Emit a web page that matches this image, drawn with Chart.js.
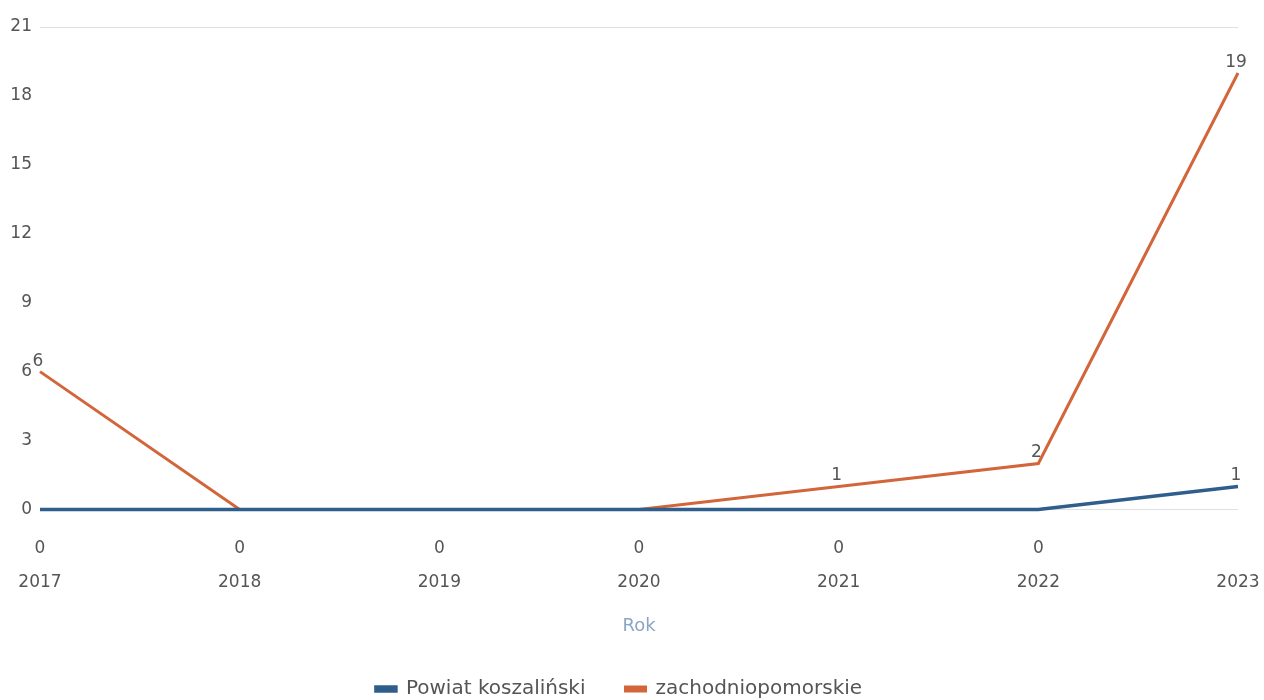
<!DOCTYPE html>
<html>
<head>
<meta charset="utf-8">
<script src="https://cdn.jsdelivr.net/npm/chart.js@4"></script>
<style>
  html, body { margin: 0; padding: 0; background: #fff; }
  #wrap { width: 1264px; height: 700px; }
</style>
</head>
<body>
<div id="wrap"><canvas id="chart" width="1264" height="700"></canvas></div>
<script>
// Values
const years = ['2017', '2018', '2019', '2020', '2021', '2022', '2023'];
const powiat = [0, 0, 0, 0, 0, 0, 1];
const zachodniopomorskie = [6, 0, 0, 0, 1, 2, 19];
const yTicks = [0, 3, 6, 9, 12, 15, 18, 21];

const blue = '#2f5e8c';
const orange = '#d2663a';
const textGrey = '#555';

// Draw value labels: blue zeros below the axis, other values above the point
const valueLabels = {
    id: 'valueLabels',
    afterDatasetsDraw(chart) {
        const ctx = chart.ctx;
        ctx.save();
        ctx.font = '17px "DejaVu Sans"';
        ctx.fillStyle = textGrey;
        ctx.textAlign = 'center';
        chart.data.datasets.forEach((ds, i) => {
            const meta = chart.getDatasetMeta(i);
            meta.data.forEach((pt, j) => {
                const v = ds.data[j];
                if (i === 0 && v === 0) {
                    ctx.textBaseline = 'middle';
                    ctx.fillText(String(v), pt.x, pt.y + 39);
                } else if (v !== 0) {
                    ctx.textBaseline = 'bottom';
                    ctx.fillText(String(v), pt.x - 2, pt.y - 2);
                }
            });
        });
        ctx.restore();
    }
};

new Chart(document.getElementById('chart'), {
    type: 'line',
    data: {
        labels: years,
        datasets: [{
            label: 'Powiat koszaliński',
            data: powiat,
            borderColor: blue,
            backgroundColor: blue,
            borderWidth: 3.5,
            pointRadius: 0,
            tension: 0
        }, {
            label: 'zachodniopomorskie',
            data: zachodniopomorskie,
            borderColor: orange,
            backgroundColor: orange,
            borderWidth: 3,
            pointRadius: 0,
            tension: 0
        }]
    },
    options: {
        responsive: false,
        animation: false,
        // small negative bottom padding pushes the legend row down to the edge
        layout: { padding: { top: 27, right: 26, bottom: -9, left: 0 } },
        plugins: {
            legend: {
                position: 'bottom',
                labels: {
                    color: textGrey,
                    font: { size: 20, family: '"DejaVu Sans"' },
                    boxWidth: 20,
                    boxHeight: 4,
                    padding: 40
                }
            },
            tooltip: { enabled: false }
        },
        scales: {
            x: {
                offset: false,
                grid: { display: false },
                border: { display: false },
                ticks: {
                    color: textGrey,
                    font: { size: 17, family: '"DejaVu Sans"' },
                    padding: 4,
                    maxRotation: 0
                },
                title: {
                    display: true,
                    text: 'Rok',
                    color: '#8aa6c4',
                    font: { size: 18, family: '"DejaVu Sans"' },
                    padding: { top: 19, bottom: 2 }
                }
            },
            y: {
                // axis starts below zero so the year labels sit low, as in the reference
                min: -2.2,
                max: 21,
                afterBuildTicks(scale) {
                    scale.ticks = yTicks.map(v => ({ value: v }));
                },
                afterFit(scale) {
                    scale.width = 40;
                },
                grid: {
                    color: ctx => (ctx.tick.value === 0 || ctx.tick.value === 21) ? '#dde1e6' : 'rgba(0,0,0,0)',
                    drawTicks: false
                },
                border: { display: false },
                ticks: {
                    color: textGrey,
                    font: { size: 17, family: '"DejaVu Sans"' },
                    padding: 8
                }
            }
        }
    },
    plugins: [valueLabels]
});
</script>
</body>
</html>
